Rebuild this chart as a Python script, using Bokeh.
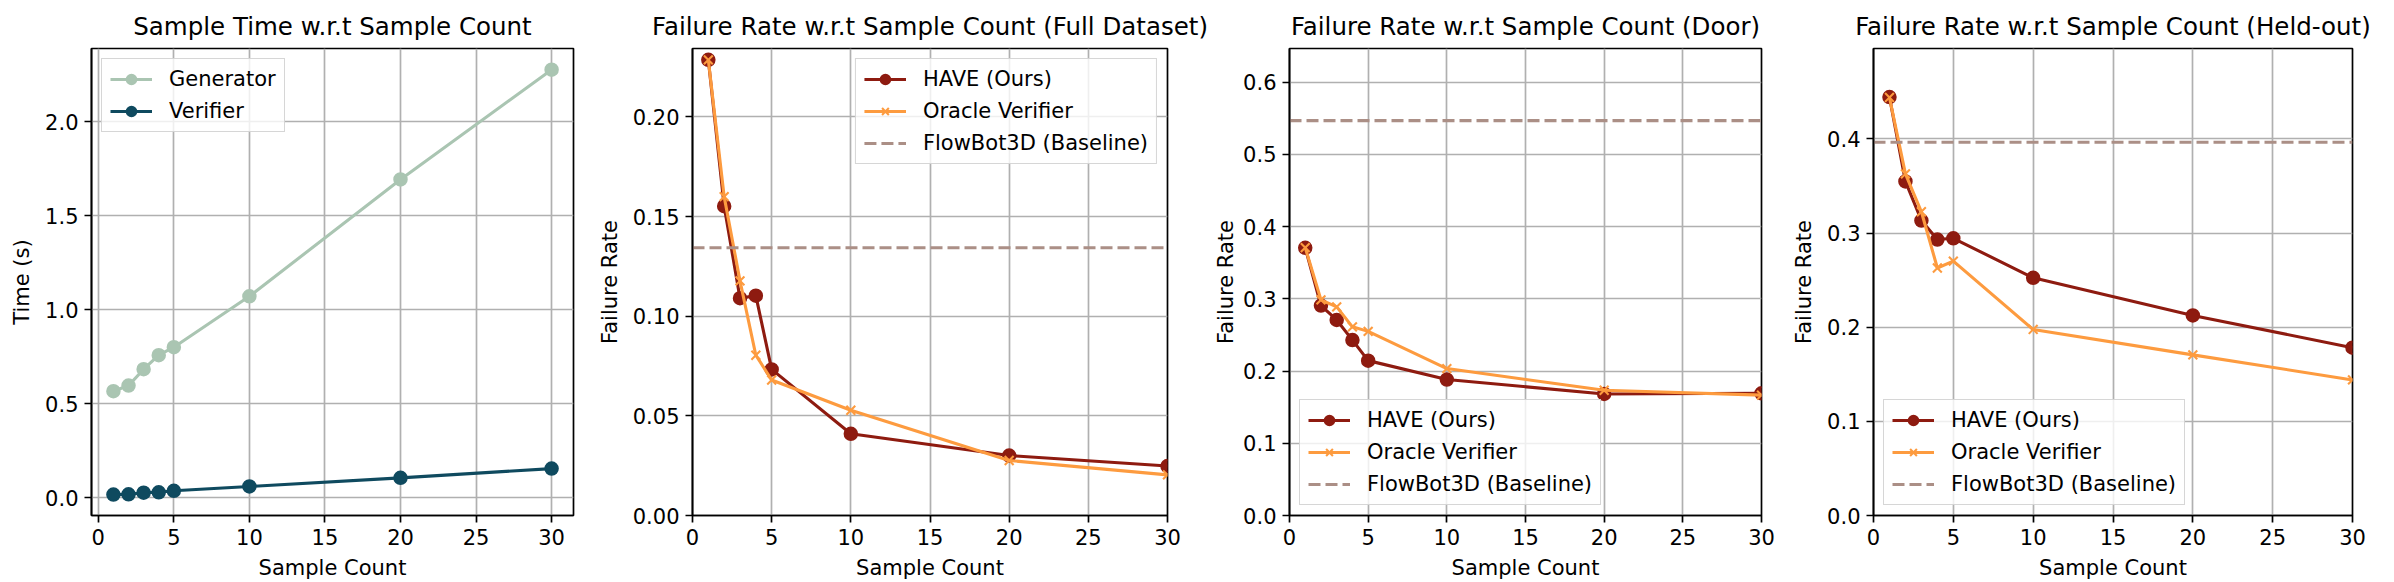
from bokeh.plotting import figure
from bokeh.layouts import row
from bokeh.models import (ColumnDataSource, Range1d, FixedTicker,
                          Legend, LegendItem)
from bokeh.embed import file_html
from bokeh.resources import INLINE

# ---- data -------------------------------------------------------------
sample_counts = [1, 2, 3, 4, 5, 10, 20, 30]

generator_time = [0.566, 0.596, 0.683, 0.758, 0.800, 1.071, 1.693, 2.277]
verifier_time = [0.016, 0.017, 0.026, 0.028, 0.036, 0.059, 0.105, 0.154]

full_have = [0.2286, 0.1552, 0.1090, 0.1103, 0.0733, 0.0410, 0.0301, 0.0248]
full_oracle = [0.2286, 0.1600, 0.1177, 0.0804, 0.0680, 0.0528, 0.0276, 0.0204]
full_baseline = 0.1343

door_have = [0.3707, 0.2908, 0.2708, 0.2429, 0.2145, 0.1883, 0.1683, 0.1693]
door_oracle = [0.3710, 0.2987, 0.2890, 0.2613, 0.2550, 0.2035, 0.1735, 0.1667]
door_baseline = 0.5469

held_have = [0.4444, 0.3548, 0.3133, 0.2931, 0.2944, 0.2524, 0.2125, 0.1782]
held_oracle = [0.4440, 0.3629, 0.3226, 0.2629, 0.2702, 0.1976, 0.1706, 0.1440]
held_baseline = 0.3964

x_ticks = [0, 5, 10, 15, 20, 25, 30]
time_ticks = [0.0, 0.5, 1.0, 1.5, 2.0]
full_ticks = [0.00, 0.05, 0.10, 0.15, 0.20]
door_ticks = [0.0, 0.1, 0.2, 0.3, 0.4, 0.5, 0.6]
held_ticks = [0.0, 0.1, 0.2, 0.3, 0.4]

# ---- style ------------------------------------------------------------
FONT = "DejaVu Sans"
TICK_PX = "21px"
TITLE_PX = "24.5px"
C_GEN = "#aac5b2"
C_VER = "#0f4a5f"
C_HAVE = "#8e1b10"
C_ORACLE = "#fd9b3f"
C_BASE = "#ab8f86"
LW = 3.1
GRID = "#b0b0b0"


def make_fig(title, width, left, right, x_range, y_range, y_ticks, y_fmt, ylabel,
             label_standoff=8):
    p = figure(width=width, height=582, output_backend="svg", toolbar_location=None,
               x_range=x_range, y_range=y_range,
               min_border_left=left, min_border_right=right,
               min_border_top=48, min_border_bottom=63)
    p.title.text = title
    p.title.text_font = FONT
    p.title.text_font_size = TITLE_PX
    p.title.text_font_style = "normal"
    p.title.align = "center"
    p.title.text_color = "black"
    p.title.standoff = 15

    p.outline_line_color = "black"
    p.outline_line_width = 1.7
    p.outline_line_alpha = 1.0
    p.background_fill_color = "white"
    p.border_fill_color = "white"

    for ax in (p.xaxis[0], p.yaxis[0]):
        ax.axis_line_color = "black"
        ax.axis_line_width = 1.7
        ax.major_tick_line_color = "black"
        ax.major_tick_line_width = 1.7
        ax.major_tick_out = 7
        ax.major_tick_in = 0
        ax.minor_tick_line_color = None
        ax.major_label_text_font = FONT
        ax.major_label_text_font_size = TICK_PX
        ax.major_label_text_color = "black"
        ax.major_label_standoff = 6
        ax.axis_label_text_font = FONT
        ax.axis_label_text_font_size = TICK_PX
        ax.axis_label_text_font_style = "normal"
        ax.axis_label_text_color = "black"
        ax.axis_label_standoff = 8
    p.yaxis.axis_label_standoff = label_standoff

    p.xaxis.ticker = FixedTicker(ticks=x_ticks)
    p.yaxis.ticker = FixedTicker(ticks=y_ticks)
    p.xaxis.major_label_overrides = {t: str(t) for t in x_ticks}
    p.yaxis.major_label_overrides = {t: y_fmt % t for t in y_ticks}
    p.xaxis.axis_label = "Sample Count"
    p.yaxis.axis_label = ylabel

    p.xgrid.ticker = FixedTicker(ticks=x_ticks)
    p.ygrid.ticker = FixedTicker(ticks=y_ticks)
    for g in (p.xgrid[0], p.ygrid[0]):
        g.grid_line_color = GRID
        g.grid_line_width = 1.7
    return p


def style_legend(legend, location):
    legend.location = location
    legend.margin = 10
    legend.padding = 8
    legend.spacing = 8
    legend.glyph_width = 42
    legend.glyph_height = 24
    legend.label_height = 24
    legend.label_standoff = 17
    legend.label_text_font = FONT
    legend.label_text_font_size = TICK_PX
    legend.label_text_color = "black"
    legend.background_fill_color = "white"
    legend.background_fill_alpha = 0.8
    legend.border_line_color = "#cccccc"
    legend.border_line_width = 1.7
    legend.border_line_alpha = 0.8


# ---- panel 1: timing ---------------------------------------------------
p1 = make_fig("Sample Time w.r.t Sample Count", 594, 91, 21,
              Range1d(-0.45, 31.45), Range1d(-0.0955, 2.39),
              time_ticks, "%.1f", "Time (s)")
src1 = ColumnDataSource(dict(x=sample_counts, gen=generator_time, ver=verifier_time))
g_line = p1.line("x", "gen", source=src1, line_color=C_GEN, line_width=LW)
g_pts = p1.scatter("x", "gen", source=src1, size=12.5, fill_color=C_GEN,
                   line_color=C_GEN, line_width=2)
v_line = p1.line("x", "ver", source=src1, line_color=C_VER, line_width=LW)
v_pts = p1.scatter("x", "ver", source=src1, size=12.5, fill_color=C_VER,
                   line_color=C_VER, line_width=2)
leg1 = Legend(items=[LegendItem(label="Generator", renderers=[g_line, g_pts]),
                     LegendItem(label="Verifier", renderers=[v_line, v_pts])])
style_legend(leg1, "top_left")
p1.add_layout(leg1, "center")


# ---- failure-rate panels ---------------------------------------------
def failure_panel(title, width, left, right, ymax, ticks, fmt, have, oracle,
                  baseline, loc, label_standoff=8):
    p = make_fig(title, width, left, right, Range1d(0, 30), Range1d(0, ymax),
                 ticks, fmt, "Failure Rate", label_standoff)
    src = ColumnDataSource(dict(x=sample_counts, have=have, oracle=oracle))
    h_line = p.line("x", "have", source=src, line_color=C_HAVE, line_width=LW)
    h_pts = p.scatter("x", "have", source=src, size=12.5, fill_color=C_HAVE,
                      line_color=C_HAVE, line_width=2)
    o_line = p.line("x", "oracle", source=src, line_color=C_ORACLE, line_width=LW)
    o_pts = p.scatter("x", "oracle", source=src, marker="x", size=12.5,
                      line_color=C_ORACLE, line_width=2.1)
    # horizontal baseline across the whole sample-count axis
    b_line = p.line(x=[x_ticks[0], x_ticks[-1]], y=[baseline, baseline],
                    line_color=C_BASE, line_width=LW, line_dash="12 5")
    leg = Legend(items=[LegendItem(label="HAVE (Ours)", renderers=[h_line, h_pts]),
                        LegendItem(label="Oracle Verifier", renderers=[o_line, o_pts]),
                        LegendItem(label="FlowBot3D (Baseline)", renderers=[b_line])])
    style_legend(leg, loc)
    p.add_layout(leg, "center")
    return p


p2 = failure_panel("Failure Rate w.r.t Sample Count (Full Dataset)", 617, 91, 44,
                   0.2343, full_ticks, "%.2f", full_have, full_oracle,
                   full_baseline, "top_right")
p3 = failure_panel("Failure Rate w.r.t Sample Count (Door)", 571, 69, 21,
                   0.6468, door_ticks, "%.1f", door_have, door_oracle,
                   door_baseline, "bottom_left", label_standoff=2)
p4 = failure_panel("Failure Rate w.r.t Sample Count (Held-out)", 612, 91, 42,
                   0.496, held_ticks, "%.1f", held_have, held_oracle,
                   held_baseline, "bottom_left")

layout = row(p1, p2, p3, p4, spacing=0)
open("out.html", "w").write(file_html(layout, INLINE))
